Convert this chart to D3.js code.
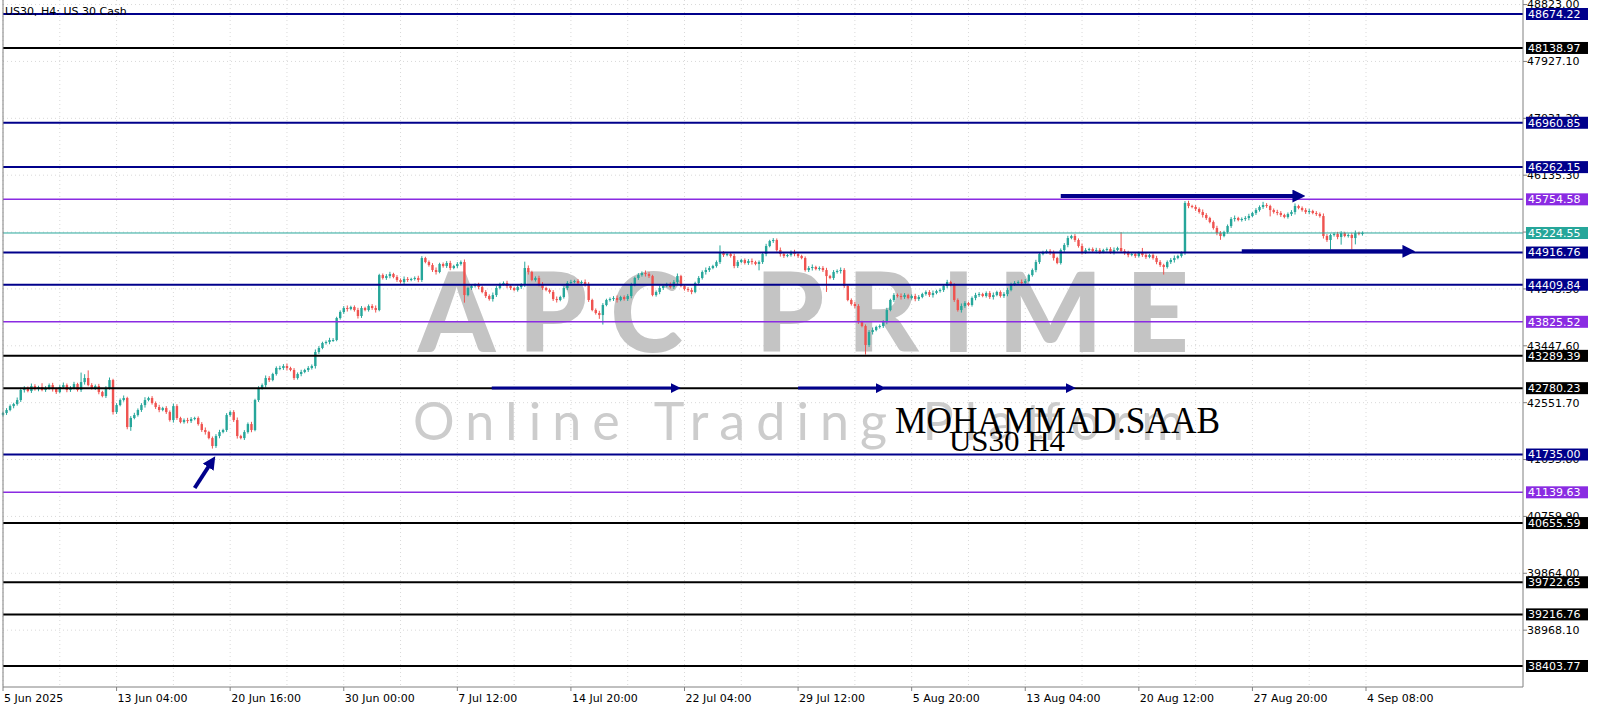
<!DOCTYPE html>
<html>
<head>
<meta charset="utf-8">
<script src="https://d3js.org/d3.v7.min.js"></script>
<style>
body { margin: 0; background: #fff; }
text { font-family: "DejaVu Sans", sans-serif; }
</style>
</head>
<body>
<div id="chart"></div>
<script>
// H4 closes, one per bar (open = previous close)
var closes = [
  42389,42436,42498,42530,42593,42751,42782,42735,42813,42766,42798,42751,42782,42829,42766,42719,
  42798,42829,42751,42782,42845,42751,42876,42940,42829,42782,42813,42719,42656,42782,42908,42404,
  42514,42593,42625,42168,42310,42357,42436,42514,42593,42625,42546,42483,42436,42467,42404,42278,
  42498,42310,42246,42278,42262,42294,42310,42215,42121,42089,41994,41869,42026,42089,42121,42357,
  42404,42278,42026,41994,42089,42215,42121,42593,42782,42829,42940,42908,43003,43098,43098,43129,
  43098,43066,42940,43003,43035,43066,43098,43129,43350,43413,43492,43507,43539,43539,43885,43980,
  44043,44027,44059,44011,43917,44043,44011,44074,44043,44011,44562,44516,44546,44578,44531,44484,
  44452,44500,44484,44500,44516,44484,44830,44767,44720,44641,44610,44736,44704,44752,44673,44704,
  44736,44767,44247,44358,44389,44405,44373,44295,44232,44184,44247,44358,44421,44437,44389,44358,
  44326,44373,44405,44673,44610,44484,44516,44421,44358,44326,44295,44184,44169,44216,44358,44437,
  44452,44468,44437,44452,44421,44169,44011,43964,43932,44090,44169,44184,44200,44169,44216,44184,
  44232,44405,44516,44562,44594,44578,44546,44247,44295,44358,44389,44421,44373,44452,44546,44389,
  44342,44326,44295,44437,44516,44610,44641,44673,44704,44767,44909,44877,44893,44862,44704,44767,
  44799,44752,44783,44767,44736,44767,44893,45019,45098,45114,44956,44893,44862,44877,44925,44893,
  44862,44830,44641,44673,44689,44657,44673,44641,44546,44516,44610,44626,44641,44389,44169,44106,
  44074,43822,43759,43460,43665,43696,43744,43759,43822,44011,44169,44247,44232,44216,44247,44200,
  44232,44184,44216,44263,44295,44247,44279,44310,44326,44389,44452,44405,44169,44011,44074,44121,
  44090,44200,44247,44263,44232,44279,44216,44247,44295,44232,44263,44326,44421,44437,44452,44437,
  44468,44562,44641,44767,44893,44925,44940,44909,44830,44752,44956,45035,45145,45177,45114,45019,
  44925,44956,44972,44940,44956,44925,44956,44972,44925,44956,44988,44940,44909,44877,44893,44862,
  44909,44877,44846,44877,44830,44767,44720,44689,44767,44799,44830,44862,44909,45697,45650,45634,
  45602,45555,45508,45460,45397,45303,45224,45177,45240,45334,45445,45460,45429,45445,45460,45492,
  45539,45586,45634,45665,45650,45586,45555,45539,45508,45476,45523,45555,45650,45618,45586,45555,
  45571,45539,45523,45492,45177,45114,45193,45208,45161,45224,45177,45193,45145,45224,45208,45224.55
];
var firstOpen = 42360;

// wick lengths above / below the body, in points
var upWick = [
  20,30,25,20,40,35,30,25,40,30,20,60,30,25,35,20,30,40,25,30,35,20,150,60,120,30,25,35,20,30,40,20,
  30,25,40,20,30,35,25,30,45,20,30,25,35,20,30,25,40,30,20,25,35,30,20,25,30,40,20,25,30,35,20,30,
  25,30,40,20,30,25,35,20,30,25,40,30,20,25,35,30,40,20,30,25,35,20,30,25,40,30,20,25,35,30,20,25,
  30,40,20,25,35,30,20,25,30,40,20,25,30,35,20,30,25,40,30,20,25,35,30,20,25,30,40,20,25,30,35,20,
  30,25,40,20,30,25,35,20,30,25,40,30,20,25,35,30,20,25,30,100,40,20,25,35,30,20,25,30,40,20,25,30,
  35,20,30,25,40,30,20,25,35,30,20,25,30,40,20,25,30,35,20,30,25,40,30,20,25,35,30,20,25,30,40,20,
  25,30,35,20,30,25,40,30,20,25,120,30,20,25,35,30,20,25,30,40,20,25,30,35,20,30,25,40,30,20,25,35,
  30,20,25,30,40,20,25,30,35,20,30,25,40,30,20,25,35,30,20,25,30,40,20,25,30,35,20,30,25,40,30,20,
  25,35,30,20,25,30,40,20,25,30,35,20,30,25,40,30,20,25,35,30,20,25,30,40,20,25,30,35,20,30,25,40,
  30,20,25,35,30,20,25,30,40,20,25,30,35,20,30,25,40,30,20,25,35,30,20,25,30,40,20,250,30,35,20,30,
  25,80,30,20,25,35,30,20,25,30,40,20,25,30,35,20,30,25,40,30,20,25,35,30,20,25,30,40,20,25,30,35,
  20,30,25,50,30,20,25,35,30,20,25,30,40,20,25,30,35,20,30,25,40,30,20,25,35,30,20,25,30,40,20,25
];
var downWick = [
  25,30,20,35,25,30,40,20,30,25,35,20,30,25,40,30,20,25,35,30,20,25,30,40,20,25,30,35,20,30,25,40,
  30,20,25,35,60,20,25,30,40,20,25,30,35,20,30,25,40,30,20,25,35,30,20,25,30,40,20,40,30,35,20,30,
  25,30,40,20,30,25,35,20,30,25,40,30,20,25,35,30,40,20,30,25,35,20,30,25,40,30,20,25,35,30,20,25,
  30,40,20,25,40,30,20,25,30,40,20,25,30,35,20,30,25,40,30,20,25,35,30,20,25,30,40,20,25,30,35,20,
  30,25,120,20,30,25,35,20,30,25,40,30,20,25,35,30,20,25,30,30,40,20,25,35,30,20,25,30,40,20,25,30,
  35,20,30,25,40,30,20,25,60,150,20,25,30,40,20,25,30,35,20,30,25,40,30,20,25,35,30,20,25,30,40,20,
  25,30,35,20,30,25,40,30,20,25,30,30,20,25,35,30,20,25,30,40,20,100,30,35,20,30,25,40,30,20,25,35,
  30,20,25,30,40,20,25,30,250,20,30,25,40,30,20,25,35,30,20,150,30,40,20,25,30,35,20,30,25,40,30,20,
  25,35,30,20,25,30,40,20,25,30,35,20,30,25,40,30,20,25,35,30,20,25,30,40,20,25,30,35,20,30,25,40,
  30,20,25,35,30,20,25,30,40,20,25,30,35,20,30,25,40,30,20,25,35,30,20,25,30,40,20,30,30,35,20,30,
  25,30,30,20,25,35,30,120,25,30,40,20,25,30,35,20,30,25,40,30,20,25,35,60,20,25,30,40,20,25,30,35,
  20,30,25,30,30,100,25,35,30,20,25,30,40,20,25,30,35,20,30,25,40,30,150,25,35,120,20,25,180,100,20,25
];

var timeLabels = ["5 Jun 2025","13 Jun 04:00","20 Jun 16:00","30 Jun 00:00","7 Jul 12:00","14 Jul 20:00",
  "22 Jul 04:00","29 Jul 12:00","5 Aug 20:00","13 Aug 04:00","20 Aug 12:00","27 Aug 20:00","4 Sep 08:00"];
var barsPerLabel = 32;

var priceTicks = [48823.00,47927.10,47031.20,46135.30,45239.40,44343.50,43447.60,42551.70,41655.80,40759.90,39864.00,38968.10];

var levels = [48674.22,48138.97,46960.85,46262.15,45754.58,44916.76,44409.84,43825.52,43289.39,42780.23,41735.00,41139.63,40655.59,39722.65,39216.76,38403.77];
var levelKinds = ["navy","black","navy","navy","purple","navy","navy","purple","black","black","navy","purple","black","black","black","black"];
var lastPrice = 45224.55;

// arrows: [startBar, startPrice, endBar, endPrice]
var arrows = [
  [54, 41208, 58.2, 41570],
  [137.7, 42781, 188.7, 42781],
  [224, 42781, 246.5, 42781],
  [248, 42781, 300, 42781],
  [298, 45807, 364, 45807],
  [349, 44935, 395, 44935]
];

var colors = { navy: "#00008B", black: "#000000", purple: "#8A2BE2", teal: "#26a69a" };

var width = 1600, height = 711,
    left = 3, axisX = 1523, bottom = 687;

var svg = d3.select("#chart").append("svg")
    .attr("width", width)
    .attr("height", height);

var x = d3.scaleLinear().domain([0, 384]).range([left, 1366]);
var y = d3.scaleLinear().domain([38072.9, 48894.7]).range([bottom, 0]);

// grid
var grid = svg.append("g").attr("stroke", "#d9d9d9").attr("stroke-dasharray", "1,3");
d3.range(0, 400, 16).forEach(function(b) {
    if (x(b) < axisX) grid.append("line").attr("x1", x(b)).attr("x2", x(b)).attr("y1", 0).attr("y2", bottom);
});
priceTicks.forEach(function(p) {
    grid.append("line").attr("x1", left).attr("x2", axisX).attr("y1", y(p)).attr("y2", y(p));
});

// watermark
svg.append("text")
    .attr("x", 418).attr("y", 352)
    .attr("textLength", 771).attr("lengthAdjust", "spacing")
    .style("font-family", "Lato, 'Open Sans', sans-serif")
    .style("font-weight", 900)
    .style("font-size", "110px")
    .attr("fill", "#c4c4c4")
    .text("APC PRIME");
svg.append("text")
    .attr("x", 413).attr("y", 440)
    .attr("textLength", 771).attr("lengthAdjust", "spacing")
    .style("font-family", "Lato, 'Open Sans', sans-serif")
    .style("font-size", "52px")
    .attr("fill", "#cccccc")
    .text("Online Trading Platform");

// candles
var candles = closes.map(function(c, i) {
    var o = i === 0 ? firstOpen : closes[i - 1];
    return { i: i, o: o, c: c, h: Math.max(o, c) + upWick[i], l: Math.min(o, c) - downWick[i] };
});
var cg = svg.append("g");
cg.selectAll(".wick").data(candles).enter().append("line")
    .attr("x1", function(d) { return x(d.i); })
    .attr("x2", function(d) { return x(d.i); })
    .attr("y1", function(d) { return y(d.h); })
    .attr("y2", function(d) { return y(d.l); })
    .attr("stroke", function(d) { return d.c >= d.o ? "#26a69a" : "#ef5350"; })
    .attr("stroke-width", 1);
cg.selectAll(".body").data(candles).enter().append("rect")
    .attr("x", function(d) { return x(d.i) - 1.2; })
    .attr("width", 2.4)
    .attr("y", function(d) { return y(Math.max(d.o, d.c)); })
    .attr("height", function(d) { return Math.max(1, Math.abs(y(d.o) - y(d.c))); })
    .attr("fill", function(d) { return d.c >= d.o ? "#26a69a" : "#ef5350"; });

// level lines
levels.forEach(function(p, k) {
    var kind = levelKinds[k];
    svg.append("line")
        .attr("x1", left).attr("x2", axisX)
        .attr("y1", y(p)).attr("y2", y(p))
        .attr("stroke", colors[kind])
        .attr("stroke-width", kind === "purple" ? 1.5 : 2);
});
svg.append("line")
    .attr("x1", left).attr("x2", axisX)
    .attr("y1", y(lastPrice)).attr("y2", y(lastPrice))
    .attr("stroke", colors.teal).attr("stroke-width", 1);

// signature text
svg.append("text")
    .attr("x", 895).attr("y", 433)
    .attr("textLength", 325).attr("lengthAdjust", "spacingAndGlyphs")
    .style("font-family", "'Liberation Serif', serif")
    .style("font-size", "38px")
    .attr("fill", "#000")
    .text("MOHAMMAD.SAAB");
svg.append("text")
    .attr("x", 949).attr("y", 451)
    .attr("textLength", 116).attr("lengthAdjust", "spacingAndGlyphs")
    .style("font-family", "'Liberation Serif', serif")
    .style("font-size", "30px")
    .attr("fill", "#000")
    .text("US30 H4");

// arrows
var defs = svg.append("defs");
[["headBig", 13], ["headSmall", 10]].forEach(function(m) {
    defs.append("marker")
        .attr("id", m[0])
        .attr("markerUnits", "userSpaceOnUse")
        .attr("viewBox", "0 0 10 10")
        .attr("refX", 2).attr("refY", 5)
        .attr("markerWidth", m[1]).attr("markerHeight", m[1])
        .attr("orient", "auto")
        .append("path").attr("d", "M0,0 L10,5 L0,10 Z").attr("fill", colors.navy);
});
arrows.forEach(function(a, k) {
    var big = (k === 0 || k >= 4);
    svg.append("line")
        .attr("x1", x(a[0])).attr("y1", y(a[1]))
        .attr("x2", x(a[2])).attr("y2", y(a[3]))
        .attr("stroke", colors.navy)
        .attr("stroke-width", big ? 4 : 3)
        .attr("marker-end", "url(#" + (big ? "headBig" : "headSmall") + ")");
});

// frame and axes
svg.append("line").attr("x1", left).attr("x2", left).attr("y1", 0).attr("y2", bottom).attr("stroke", "#808080");
svg.append("line").attr("x1", left).attr("x2", axisX).attr("y1", bottom).attr("y2", bottom).attr("stroke", "#808080");
svg.append("line").attr("x1", axisX).attr("x2", axisX).attr("y1", 0).attr("y2", bottom).attr("stroke", "#808080");

// price ticks
priceTicks.forEach(function(p) {
    svg.append("line").attr("x1", axisX).attr("x2", axisX + 4).attr("y1", y(p)).attr("y2", y(p)).attr("stroke", "#808080");
    svg.append("text")
        .attr("x", axisX + 4).attr("y", y(p))
        .attr("dy", "0.35em")
        .style("font-size", "11px")
        .attr("fill", "#000")
        .text(p.toFixed(2));
});

// level labels
function priceBox(p, col) {
    svg.append("rect")
        .attr("x", axisX + 3).attr("y", y(p) - 6)
        .attr("width", 62).attr("height", 12)
        .attr("fill", col);
    svg.append("text")
        .attr("x", axisX + 5).attr("y", y(p))
        .attr("dy", "0.36em")
        .style("font-size", "11px")
        .attr("fill", "#fff")
        .text(p.toFixed(2));
}
levels.forEach(function(p, k) { priceBox(p, colors[levelKinds[k]]); });
priceBox(lastPrice, colors.teal);

// time labels
timeLabels.forEach(function(t, k) {
    var xx = x(k * barsPerLabel);
    svg.append("line").attr("x1", xx).attr("x2", xx).attr("y1", bottom).attr("y2", bottom + 4).attr("stroke", "#808080");
    svg.append("text")
        .attr("x", xx + 1).attr("y", bottom + 15)
        .style("font-size", "11px")
        .attr("fill", "#000")
        .text(t);
});

// title
svg.append("text")
    .attr("x", 5).attr("y", 15)
    .style("font-size", "11px")
    .attr("fill", "#000")
    .text("US30, H4:  US 30 Cash");
</script>
</body>
</html>
